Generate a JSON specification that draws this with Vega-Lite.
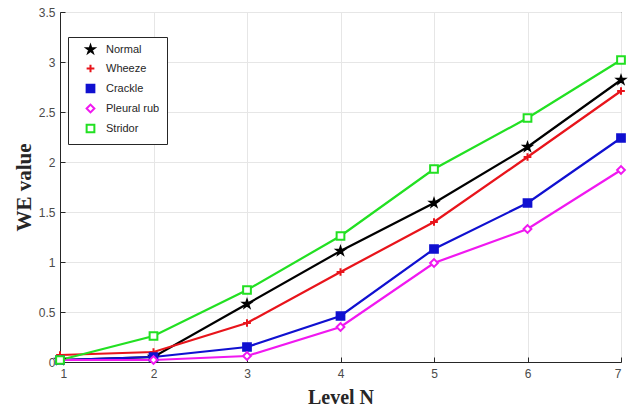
{
  "$schema": "https://vega.github.io/schema/vega-lite/v6.json",
  "autosize": "none",
  "width": 561,
  "height": 350,
  "padding": {"left": 60, "top": 12, "right": 17, "bottom": 50},
  "background": "white",
  "config": {
    "view": {"stroke": "#262626", "strokeWidth": 1},
    "axis": {
      "labelFont": "Liberation Sans",
      "labelFontSize": 12,
      "labelColor": "#4a4a4a",
      "titleFont": "Liberation Serif",
      "titleFontWeight": "bold",
      "titleColor": "#262626",
      "domainColor": "#262626",
      "tickColor": "#262626",
      "gridColor": "#e6e6e6",
      "gridWidth": 1
    },
    "legend": {
      "orient": "none", "legendX": 8, "legendY": 25,
      "strokeColor": "#262626", "fillColor": "white", "padding": 7,
      "labelFont": "Liberation Sans", "labelFontSize": 11, "labelColor": "#262626",
      "symbolSize": 60, "symbolStrokeWidth": 2, "rowPadding": 3,
      "symbolOffset": 10, "labelOffset": 10
    }
  },
  "data": {
    "values": [
      {"level": 1, "value": 0.02, "series": "Normal"},
      {"level": 2, "value": 0.05, "series": "Normal"},
      {"level": 3, "value": 0.58, "series": "Normal"},
      {"level": 4, "value": 1.11, "series": "Normal"},
      {"level": 5, "value": 1.59, "series": "Normal"},
      {"level": 6, "value": 2.15, "series": "Normal"},
      {"level": 7, "value": 2.82, "series": "Normal"},
      {"level": 1, "value": 0.07, "series": "Wheeze"},
      {"level": 2, "value": 0.1, "series": "Wheeze"},
      {"level": 3, "value": 0.39, "series": "Wheeze"},
      {"level": 4, "value": 0.9, "series": "Wheeze"},
      {"level": 5, "value": 1.4, "series": "Wheeze"},
      {"level": 6, "value": 2.05, "series": "Wheeze"},
      {"level": 7, "value": 2.71, "series": "Wheeze"},
      {"level": 1, "value": 0.02, "series": "Crackle"},
      {"level": 2, "value": 0.05, "series": "Crackle"},
      {"level": 3, "value": 0.15, "series": "Crackle"},
      {"level": 4, "value": 0.46, "series": "Crackle"},
      {"level": 5, "value": 1.13, "series": "Crackle"},
      {"level": 6, "value": 1.59, "series": "Crackle"},
      {"level": 7, "value": 2.24, "series": "Crackle"},
      {"level": 1, "value": 0.02, "series": "Pleural rub"},
      {"level": 2, "value": 0.02, "series": "Pleural rub"},
      {"level": 3, "value": 0.06, "series": "Pleural rub"},
      {"level": 4, "value": 0.35, "series": "Pleural rub"},
      {"level": 5, "value": 0.99, "series": "Pleural rub"},
      {"level": 6, "value": 1.33, "series": "Pleural rub"},
      {"level": 7, "value": 1.92, "series": "Pleural rub"},
      {"level": 1, "value": 0.02, "series": "Stridor"},
      {"level": 2, "value": 0.26, "series": "Stridor"},
      {"level": 3, "value": 0.72, "series": "Stridor"},
      {"level": 4, "value": 1.26, "series": "Stridor"},
      {"level": 5, "value": 1.93, "series": "Stridor"},
      {"level": 6, "value": 2.44, "series": "Stridor"},
      {"level": 7, "value": 3.02, "series": "Stridor"}
    ]
  },
  "encoding": {
    "x": {
      "field": "level", "type": "quantitative",
      "scale": {"domain": [1, 7], "nice": false},
      "axis": {"title": "Level N", "titleFontSize": 20, "values": [1, 2, 3, 4, 5, 6, 7], "tickSize": -5, "labelPadding": 11, "titlePadding": 8}
    },
    "y": {
      "field": "value", "type": "quantitative",
      "scale": {"domain": [0, 3.5], "nice": false},
      "axis": {"title": "WE value", "titleFontSize": 21, "values": [0, 0.5, 1, 1.5, 2, 2.5, 3, 3.5], "format": "~g", "tickSize": -5, "labelPadding": 10, "titlePadding": 4}
    }
  },
  "layer": [
    {
      "mark": {"type": "line", "strokeWidth": 2.2},
      "encoding": {
        "stroke": {
          "field": "series", "type": "nominal", "title": null,
          "scale": {"domain": ["Normal", "Wheeze", "Crackle", "Pleural rub", "Stridor"], "range": ["#000000", "#e8141b", "#1010d0", "#f018f0", "#22e022"]},
          "legend": {"encode": {"symbols": {"update": {"shape": {"signal": "datum.value === 'Normal' ? 'M-3.4,0L3.4,0M0,-1L0.2245,-0.309L0.951,-0.309L0.363,0.118L0.588,0.809L0,0.382L-0.588,0.809L-0.363,0.118L-0.951,-0.309L-0.2245,-0.309Z' : datum.value === 'Wheeze' ? 'M-3.4,0L3.4,0M0,-1L0,1' : datum.value === 'Crackle' ? 'M-3.4,0L-0.7,0M0.7,0L3.4,0M-0.7,-0.7L0.7,-0.7L0.7,0.7L-0.7,0.7Z' : datum.value === 'Pleural rub' ? 'M-3.4,0L-1,0M1,0L3.4,0M0,-1L1,0L0,1L-1,0Z' : 'M-3.4,0L-0.7,0M0.7,0L3.4,0M-0.7,-0.7L0.7,-0.7L0.7,0.7L-0.7,0.7Z'"}}}}}
        }
      }
    },
    {
      "mark": {"type": "point", "size": 60, "strokeWidth": 2, "opacity": 1, "filled": false},
      "encoding": {
        "stroke": {
          "field": "series", "type": "nominal", "title": null,
          "scale": {"domain": ["Normal", "Wheeze", "Crackle", "Pleural rub", "Stridor"], "range": ["#000000", "#e8141b", "#1010d0", "#f018f0", "#22e022"]},
          "legend": {"encode": {"symbols": {"update": {"shape": {"signal": "datum.value === 'Normal' ? 'M-3.4,0L3.4,0M0,-1L0.2245,-0.309L0.951,-0.309L0.363,0.118L0.588,0.809L0,0.382L-0.588,0.809L-0.363,0.118L-0.951,-0.309L-0.2245,-0.309Z' : datum.value === 'Wheeze' ? 'M-3.4,0L3.4,0M0,-1L0,1' : datum.value === 'Crackle' ? 'M-3.4,0L-0.7,0M0.7,0L3.4,0M-0.7,-0.7L0.7,-0.7L0.7,0.7L-0.7,0.7Z' : datum.value === 'Pleural rub' ? 'M-3.4,0L-1,0M1,0L3.4,0M0,-1L1,0L0,1L-1,0Z' : 'M-3.4,0L-0.7,0M0.7,0L3.4,0M-0.7,-0.7L0.7,-0.7L0.7,0.7L-0.7,0.7Z'"}}}}}
        },
        "fill": {
          "field": "series", "type": "nominal", "title": null,
          "scale": {"domain": ["Normal", "Wheeze", "Crackle", "Pleural rub", "Stridor"], "range": ["#000000", "transparent", "#1010d0", "white", "white"]},
          "legend": {"encode": {"symbols": {"update": {"shape": {"signal": "datum.value === 'Normal' ? 'M-3.4,0L3.4,0M0,-1L0.2245,-0.309L0.951,-0.309L0.363,0.118L0.588,0.809L0,0.382L-0.588,0.809L-0.363,0.118L-0.951,-0.309L-0.2245,-0.309Z' : datum.value === 'Wheeze' ? 'M-3.4,0L3.4,0M0,-1L0,1' : datum.value === 'Crackle' ? 'M-3.4,0L-0.7,0M0.7,0L3.4,0M-0.7,-0.7L0.7,-0.7L0.7,0.7L-0.7,0.7Z' : datum.value === 'Pleural rub' ? 'M-3.4,0L-1,0M1,0L3.4,0M0,-1L1,0L0,1L-1,0Z' : 'M-3.4,0L-0.7,0M0.7,0L3.4,0M-0.7,-0.7L0.7,-0.7L0.7,0.7L-0.7,0.7Z'"}}}}}
        },
        "shape": {
          "field": "series", "type": "nominal", "title": null,
          "scale": {"domain": ["Normal", "Wheeze", "Crackle", "Pleural rub", "Stridor"], "range": [
            "M0,-1L0.2245,-0.309L0.951,-0.309L0.363,0.118L0.588,0.809L0,0.382L-0.588,0.809L-0.363,0.118L-0.951,-0.309L-0.2245,-0.309Z",
            "M-1,0L1,0M0,-1L0,1",
            "square",
            "diamond",
            "square"
          ]},
          "legend": {"encode": {"symbols": {"update": {"shape": {"signal": "datum.value === 'Normal' ? 'M-3.4,0L3.4,0M0,-1L0.2245,-0.309L0.951,-0.309L0.363,0.118L0.588,0.809L0,0.382L-0.588,0.809L-0.363,0.118L-0.951,-0.309L-0.2245,-0.309Z' : datum.value === 'Wheeze' ? 'M-3.4,0L3.4,0M0,-1L0,1' : datum.value === 'Crackle' ? 'M-3.4,0L-0.7,0M0.7,0L3.4,0M-0.7,-0.7L0.7,-0.7L0.7,0.7L-0.7,0.7Z' : datum.value === 'Pleural rub' ? 'M-3.4,0L-1,0M1,0L3.4,0M0,-1L1,0L0,1L-1,0Z' : 'M-3.4,0L-0.7,0M0.7,0L3.4,0M-0.7,-0.7L0.7,-0.7L0.7,0.7L-0.7,0.7Z'"}}}}}
        }
      }
    }
  ]
}
